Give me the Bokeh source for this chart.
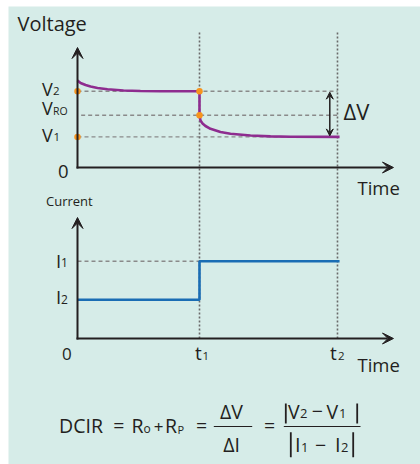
from bokeh.plotting import figure
from bokeh.models import Range1d, Label, Arrow, VeeHead, BoxAnnotation
from bokeh.embed import file_html
from bokeh.resources import INLINE

# ---------------- data (schematic units) ----------------
T1, T2 = 1.0, 2.131                 # time marks t1, t2
V2, VRO, V1 = 7.63, 5.23, 3.06      # voltage levels
I1, I2 = 7.73, 3.87                 # current levels

# voltage under current I2 (relaxation to V2)
v_a_t = [0.0, 0.025, 0.066, 0.107, 0.164, 0.246, 0.377, 0.516, 0.680, 1.0]
v_a_v = [8.70, 8.45, 8.25, 8.10, 7.95, 7.83, 7.70, 7.65, 7.63, 7.63]
# voltage step and relaxation to V1
v_b_t = [1.0, 1.0, 1.008, 1.025, 1.049, 1.090, 1.172, 1.254, 1.418, 1.582, 1.746, 2.148]
v_b_v = [7.63, 5.23, 4.70, 4.40, 4.15, 3.87, 3.55, 3.37, 3.20, 3.11, 3.07, 3.06]
# current step
cur_t = [0.0, 1.0, 1.0, 2.148]
cur_i = [I2, I2, I1, I1]
# marker points
dot_t = [0.0, 1.0, 1.0, 0.0]
dot_v = [V2, V2, VRO, V1]

V_AXIS_END, T_AXIS_END, I_AXIS_END = 12.0, 2.59, 12.1

# ---------------- layout (picture pixels) ----------------
W, H = 420, 464
LEFT, TOP = 8, 6          # white border round the teal panel
X0 = 77                   # px of t = 0
PXT = 122.0               # px per time unit
VZ = 167                  # px (from top) of V = 0
IZ = 338                  # px (from top) of I = 0
PXU = 10.0                # px per unit (V and I)
MID = 0.388               # baseline offset of a "middle" aligned line, in em

BG = "#d6ece8"
INK = "#231f20"
FONT = "Open Sans"

p = figure(width=W, height=H, output_backend="svg", toolbar_location=None,
           x_axis_type=None, y_axis_type=None,
           x_range=Range1d((LEFT - X0) / PXT, (W - X0) / PXT),
           y_range=Range1d((VZ - H) / PXU, (VZ - TOP) / PXU),
           min_border_left=LEFT, min_border_top=TOP, min_border_right=0, min_border_bottom=0,
           background_fill_color=BG, border_fill_color="white",
           outline_line_color=None)
p.extra_y_ranges = {"cur": Range1d((IZ - H) / PXU, (IZ - TOP) / PXU)}
p.grid.visible = False

def tx(X):
    return (X - X0) / PXT

def vy(Y):
    return (VZ - Y) / PXU

# dashed reference levels
p.segment(x0=[0.0, 0.03, 0.0], x1=[T2, T2, T2], y0=[V2, VRO, V1], y1=[V2, VRO, V1],
          line_color="#8a8a8a", line_width=1.4, line_dash="4 3")
p.segment(x0=[0.0], x1=[T1], y0=[I1], y1=[I1], y_range_name="cur",
          line_color="#8a8a8a", line_width=1.4, line_dash="4 3")
# dotted time marks
p.segment(x0=[T1, T2], x1=[T1, T2], y0=[0, 0], y1=[30.6, 30.6], y_range_name="cur",
          line_color="#6a6a6a", line_width=1.6, line_dash="2 2")

# curves
p.line(v_a_t, v_a_v, line_color="#8e2c8f", line_width=2.6)
p.line(v_b_t, v_b_v, line_color="#8e2c8f", line_width=2.6)
p.line(cur_t, cur_i, y_range_name="cur", line_color="#1a6db4", line_width=2.6)

# axes with arrows
def axis_arrow(x0, y0, x1, y1, rng="default"):
    p.add_layout(Arrow(x_start=x0, y_start=y0, x_end=x1, y_end=y1, y_range_name=rng,
                       line_color=INK, line_width=2,
                       end=VeeHead(size=11, fill_color=INK, line_color=INK, line_width=1)))

axis_arrow(0, -0.1, 0, V_AXIS_END)
axis_arrow(-0.008, 0, T_AXIS_END, 0)
axis_arrow(0, -0.1, 0, I_AXIS_END, "cur")
axis_arrow(-0.008, 0, T_AXIS_END, 0, "cur")

# delta V double arrow
p.add_layout(Arrow(x_start=2.068, y_start=V1 + 0.1, x_end=2.068, y_end=V2 - 0.1,
                   line_color=INK, line_width=1.5,
                   start=VeeHead(size=7, fill_color=INK, line_color=INK, line_width=1),
                   end=VeeHead(size=7, fill_color=INK, line_color=INK, line_width=1)))

# orange markers
p.scatter(dot_t, dot_v, size=6.5, fill_color="#f7941d", line_color=None)

# ---------------- texts (placed by picture pixels, Y = baseline) ----------------
def lab(text, X, Y, size, align="left", color=INK):
    p.add_layout(Label(x=tx(X), y=vy(Y - MID * size), text=text, text_font=FONT,
                       text_font_size=f"{size}px", text_align=align,
                       text_baseline="middle", text_color=color))

def bar(Xa, Xb, Ya, Yb):
    p.add_layout(BoxAnnotation(left=tx(Xa), right=tx(Xb), bottom=vy(Yb), top=vy(Ya),
                               fill_color=INK, fill_alpha=1.0, line_color=None))

lab("Voltage", 17, 30.7, 20)
lab("V", 41.5, 95, 18); lab("2", 52.5, 95, 11.5)
lab("V", 41.5, 114.5, 18); lab("RO", 52.5, 114.5, 10.5)
lab("V", 41.5, 141, 18); lab("1", 53, 141, 11.5)
lab("0", 57.5, 177.7, 18.5)
lab("Time", 357, 194, 18.5)
lab("ΔV", 343, 119.5, 22)

lab("Current", 45.5, 205.7, 13)
lab("I", 55.5, 266.7, 18.5); lab("1", 60.5, 266.7, 12)
lab("I", 55.5, 303.3, 18.5); lab("2", 60.5, 303.3, 12)
lab("0", 61.5, 360, 17)
lab("t", 194.5, 360, 19); lab("1", 202, 360, 11.5)
lab("t", 329.5, 360, 19); lab("2", 337.5, 360, 11.5)
lab("Time", 357, 371.5, 18.5)

# formula
lab("DCIR", 58.5, 433, 19.5)
lab("=", 118.3, 433, 19.5, "center")
lab("R", 131, 433, 19.5)
lab("o", 143, 433, 12)
lab("+", 158, 433, 17, "center")
lab("R", 164.5, 433, 19.5)
lab("P", 177, 433, 11)
lab("=", 201, 433, 19.5, "center")

lab("ΔV", 231, 418.3, 19.5, "center")
bar(213.3, 251.7, 425.5, 426.6)
lab("ΔI", 231, 451.7, 19.5, "center")
lab("=", 269, 433, 19.5, "center")

bar(283.3, 360, 425.5, 426.6)
bar(284.4, 286.2, 403, 423)
bar(355.8, 357.6, 403, 423)
lab("V", 287.5, 418.3, 19.5); lab("2", 299.5, 418.3, 13)
lab("−", 316.7, 418.3, 19.5, "center")
lab("V", 326, 418.3, 19.5); lab("1", 338.5, 418.3, 13)

bar(289.4, 291.2, 431.7, 456.7)
bar(351.8, 353.6, 431.7, 456.7)
lab("I", 294.5, 451.7, 20); lab("1", 300.5, 451.7, 13)
lab("−", 320, 451.7, 19.5, "center")
lab("I", 334.5, 451.7, 20); lab("2", 340.5, 451.7, 13)

open("out.html", "w").write(file_html(p, INLINE))
